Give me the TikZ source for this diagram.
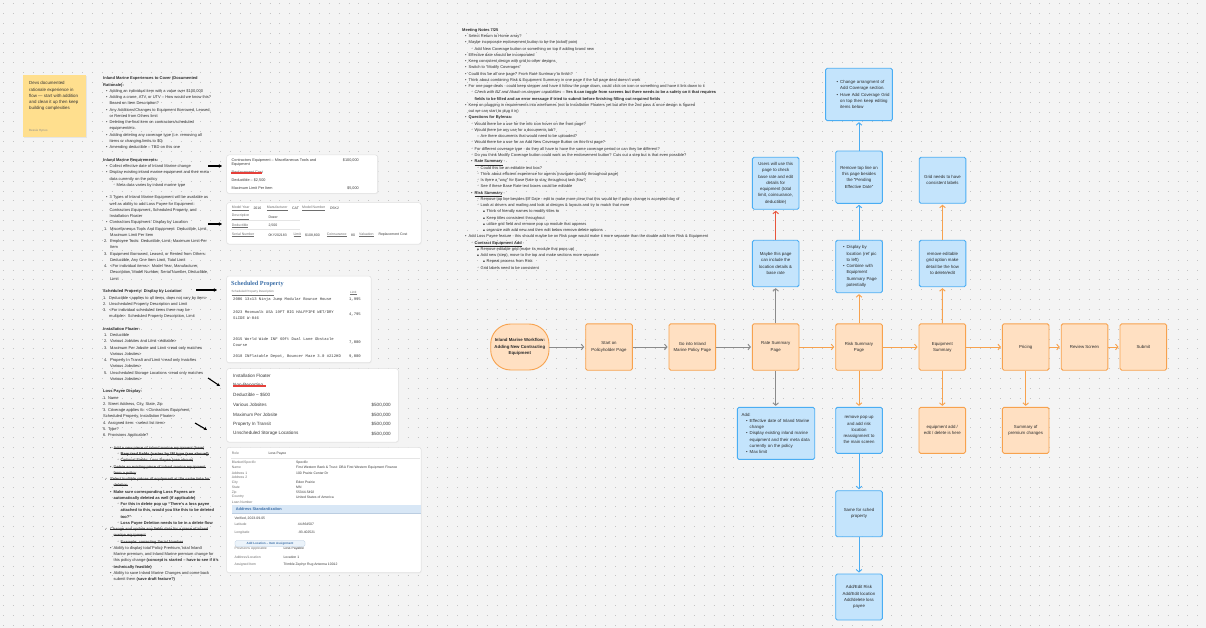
\documentclass[tikz,border=0pt]{standalone}
\usepackage{fontspec}
\setmainfont{Liberation Sans}
\newfontfamily\symf{DejaVu Sans}
\newfontfamily\monof{Liberation Mono}
\newfontfamily\seriff{Liberation Serif}
\usetikzlibrary{arrows.meta}
\definecolor{bgc}{HTML}{F4F4F4}
\definecolor{dotc}{HTML}{C4C4C4}
\definecolor{sticky}{HTML}{FFDF8E}
\definecolor{oF}{HTML}{FFE0C2}
\definecolor{oB}{HTML}{F7A24E}
\definecolor{bF}{HTML}{C4E4FC}
\definecolor{bB}{HTML}{4AADF3}
\definecolor{gA}{HTML}{8A8A8A}
\definecolor{rA}{HTML}{E8553C}
\definecolor{txt}{HTML}{2A2A2A}
\definecolor{cardB}{HTML}{E0E0E0}
\definecolor{cardT}{HTML}{3A3A3A}
\definecolor{lbl}{HTML}{6E6E6E}
\definecolor{spblue}{HTML}{3C6FA8}
\definecolor{strk}{HTML}{E5403A}
\definecolor{band}{HTML}{D8E7F6}
\newsavebox\mstbox
\newcommand\mst[1]{\sbox\mstbox{#1}\rlap{\rule[1.2pt]{\wd\mstbox}{0.3pt}}\usebox\mstbox}
\newcommand\mB[2]{\mbox{\hspace*{#1pt}\makebox[3.5pt][l]{•}#2}}
\newcommand\mO[2]{\mbox{\hspace*{#1pt}\makebox[3.5pt][l]{\symf\fontsize{4.2}{3}\selectfont ◦}#2}}
\newcommand\mS[2]{\mbox{\hspace*{#1pt}\makebox[3.5pt][l]{\symf\fontsize{2.8}{3}\selectfont ▪}#2}}
\newcommand\mK[2]{\mbox{\hspace*{#1pt}\makebox[5.5pt][l]{\symf\fontsize{3.4}{3}\selectfont ✓}#2}}
\newcommand\mD[2]{\mbox{\hspace*{#1pt}\makebox[3.5pt][l]{–}#2}}
\newcommand\mC[2]{\mbox{\hspace*{#1pt}\hspace*{3.5pt}#2}}
\newcommand\mN[3]{\mbox{\hspace*{#1pt}\makebox[6pt][l]{#2}#3}}
\newcommand\mNc[2]{\mbox{\hspace*{#1pt}\hspace*{6pt}#2}}
\newcounter{tn}
\newcommand\ctext[3][]{\stepcounter{tn}\node[ct,#1] (t\arabic{tn}) at (#2) {#3};}
\begin{document}
\begin{tikzpicture}[x=1pt,y=-1pt,
 fb/.style={draw=oB, fill=oF, line width=0.9pt, rounded corners=1.6pt, minimum width=46.6pt, minimum height=46.4pt, inner sep=0.5pt, align=center, font=\fontsize{4.35}{6.25}\selectfont, text=txt},
 bb/.style={fb, draw=bB, fill=bF},
 arr/.style={line width=0.95pt, -{Straight Barb[length=2.4pt,width=5.6pt,line width=0.95pt]}, shorten >=1pt},
 ga/.style={arr, draw=gA}, oa/.style={arr, draw=oB}, ba/.style={arr, draw=bB}, ra/.style={arr, draw=rA},
 ct/.style={anchor=west, inner sep=0, text=cardT},
 card/.style={draw=cardB, fill=white, rounded corners=2.2pt, line width=0.5pt},
 shad/.style={fill=black!7, rounded corners=2.5pt},
 fld/.style={draw=black!10, line width=0.3pt},
 hand/.style={line width=1.1pt, -{Stealth[length=3.2pt,width=3.6pt]}},
 col/.style={anchor=north west, inner sep=0, align=left, font=\fontsize{4}{6.26}\selectfont, text=txt}]
\useasboundingbox (0,0) rectangle (1206,628);
\fill[bgc] (0,0) rectangle (1206,628);
\foreach \j in {0,...,63}{\draw[dotc, line width=0.95pt, dash pattern=on 0.95pt off 8.92pt, dash phase=6.8pt] (0,3.5+\j*9.87) -- (1206,3.5+\j*9.87);}

% sticky note
\fill[black!10] (23.8,76) rectangle (86.8,138.5);
\fill[sticky] (23,75) rectangle (86,137.5);
\node[anchor=north west, inner sep=0, align=left, font=\fontsize{4.4}{6.25}\selectfont, text=black!80] (stk) at (29,81.6) {Devs documented\\rationale experience in\\flow — start with addition\\and clean it up then keep\\building complexities};
\node[anchor=west, inner sep=0, font=\fontsize{3}{4}\selectfont, text=black!45] (stkauth) at (29,130.7) {Bessie Hynes};

% left column
\node[col] (leftcol) at (103,76.8) {\textbf{Inland Marine Experiences to Cover (Documented}\\
\textbf{Rationale):}\\
\mB{3}{Adding an individual item with a value over \$100,000}\\
\mB{3}{Adding a crane, ATV, or UTV – How would we know this?}\\
\mC{3}{Based on Item Description?}\\
\mB{3}{Any Additions/Changes to Equipment Borrowed, Leased,}\\
\mC{3}{or Rented from Others limit}\\
\mB{3}{Deleting the final item on contractors/scheduled}\\
\mC{3}{equipment/etc.}\\
\mB{3}{Adding deleting any coverage type (i.e. removing all}\\
\mC{3}{items or changing limits to \$0)}\\
\mB{3}{Amending deductible – TBD on this one}\\
\mbox{}\\
\textbf{Inland Marine Requirements:}\\
\mB{3}{Collect effective date of Inland Marine change}\\
\mB{3}{Display existing inland marine equipment and their meta}\\
\mC{3}{data currently on the policy}\\
\mO{10}{Meta data varies by inland marine type}\\
\mbox{}\\
\mB{3}{3 Types of Inland Marine Equipment will be available as}\\
\mC{3}{well as ability to add Loss Payee for Equipment:}\\
\mC{3}{Contractors Equipment, Scheduled Property, and}\\
\mC{3}{Installation Floater}\\
\mB{3}{Contractors Equipment: Display by Location}\\
\mN{1}{1.}{Miscellaneous Tools And Equipment: Deductible, Limit,}\\
\mNc{1}{Maximum Limit Per Item}\\
\mN{1}{2.}{Employee Tools: Deductible, Limit, Maximum Limit Per}\\
\mNc{1}{Item}\\
\mN{1}{3.}{Equipment Borrowed, Leased, or Rented from Others:}\\
\mNc{1}{Deductible, Any One Item Limit, Total Limit}\\
\mN{1}{4.}{<For individual items>: Model Year, Manufacturer,}\\
\mNc{1}{Description, Model Number, Serial Number, Deductible,}\\
\mNc{1}{Limit}\\
\mbox{}\\
\textbf{Scheduled Property: Display by Location}\\
\mN{0}{1.}{Deductible <applies to all items, does not vary by item>}\\
\mN{0}{2.}{Unscheduled Property Description and Limit}\\
\mN{0}{3.}{<For individual scheduled items there may be}\\
\mNc{0}{multiple>: Scheduled Property Description, Limit}\\
\mbox{}\\
\textbf{Installation Floater:}\\
\mN{1}{1.}{Deductible}\\
\mN{1}{2.}{Various Jobsites and Limit <editable>}\\
\mN{1}{3.}{Maximum Per Jobsite and Limit <read only matches}\\
\mNc{1}{Various Jobsites>}\\
\mN{1}{4.}{Property In Transit and Limit <read only matches}\\
\mNc{1}{Various Jobsites>}\\
\mN{1}{5.}{Unscheduled Storage Locations <read only matches}\\
\mNc{1}{Various Jobsites>}\\
\mbox{}\\
\textbf{Loss Payee Display:}\\
1. Name\\
2. Street Address, City, State, Zip\\
3. Coverage applies to: <Contractors Equipment,\\
Scheduled Property, Installation Floater>\\
4. Assigned item: <select list item>\\
5. Type?\\
6. Provisions Applicable?\\
\mbox{}\\
\mB{7}{\mst{Add a new piece of inland marine equipment (here)}}\\
\mO{14}{\mst{\textbf{Required fields (varies by IM type (see above))}}}\\
\mO{14}{\mst{Optional Fields: Loss Payee (see above)}}\\
\mB{7}{\mst{Delete an existing piece of inland marine equipment}}\\
\mC{7}{\mst{from a policy}}\\
\mK{1.5}{\mst{Select multiple pieces of equipment at the same time for}}\\
\mC{7}{\mst{deletion}}\\
\mB{7}{\textbf{Make sure corresponding Loss Payees are}}\\
\mC{7}{\textbf{automatically deleted as well (if applicable)}}\\
\mO{14}{\textbf{For this in delete pop up “There’s a loss payee}}\\
\mC{14}{\textbf{attached to this, would you like this to be deleted}}\\
\mC{14}{\textbf{too?”}}\\
\mO{14}{\textbf{Loss Payee Deletion needs to be in a delete flow}}\\
\mK{1.5}{\mst{Change and update any fields data for a piece of inland}}\\
\mC{7}{\mst{marine equipment}}\\
\mO{14}{\mst{Example: correcting Serial Number}}\\
\mB{7}{Ability to display total Policy Premium, total Inland}\\
\mC{7}{Marine premium, and Inland Marine premium change for}\\
\mC{7}{this policy change \textbf{(concept is started – have to see if it’s}}\\
\mC{7}{\textbf{technically feasible)}}\\
\mB{7}{Ability to save Inland Marine Changes and come back}\\
\mC{7}{submit them \textbf{(save draft feature?)}}};

% hand arrows
\coordinate (h1a) at (208,166); \coordinate (h1b) at (222,166);
\coordinate (h2a) at (208,224); \coordinate (h2b) at (222,224);
\coordinate (h3a) at (196,290); \coordinate (h3b) at (217,290);
\coordinate (h4a) at (208,378); \coordinate (h4b) at (220,386);
\coordinate (h5a) at (195,423); \coordinate (h5b) at (207,430);
\draw[hand] (h1a) -- (h1b);
\draw[hand] (h2a) -- (h2b);
\draw[hand] (h3a) -- (h3b);
\draw[hand] (h4a) -- (h4b);
\draw[hand] (h5a) -- (h5b);

% card 1
\fill[shad] (226.5,155.5) rectangle (378.5,194.2);
\draw[card] (226.7,155) rectangle (377.7,193.3);
\ctext[font=\fontsize{3.8}{4}\selectfont]{231.5,160.3}{Contractors Equipment – Miscellaneous Tools and}
\ctext[font=\fontsize{3.8}{4}\selectfont]{231.5,164.6}{Equipment}
\ctext[font=\fontsize{3.8}{4}\selectfont, anchor=east]{359,160.3}{\$100,000}
\ctext[font=\fontsize{3.8}{4}\selectfont, text=lbl]{231.5,173}{Replacement Cost}
\draw[strk, line width=1.5pt] (231,173.1) -- (262,173.1);
\ctext[font=\fontsize{3.8}{4}\selectfont]{231.5,180.3}{Deductible – \$2,500}
\ctext[font=\fontsize{3.8}{4}\selectfont]{231.5,188.3}{Maximum Limit Per Item}
\ctext[font=\fontsize{3.8}{4}\selectfont, anchor=east]{359,188.3}{\$5,000}

% card 2
\fill[shad] (226.5,203.2) rectangle (421.8,244.8);
\draw[card] (226.7,202.7) rectangle (421,244);
\draw[fld] (231,220.6) -- (300,220.6);
\draw[fld] (231,229.6) -- (300,229.6);
\begin{scope}[every node/.append style={font=\fontsize{3.5}{4}\selectfont}]
\ctext[text=lbl]{231.7,208.3}{\underline{Model Year}}
\ctext{253.3,208.3}{2016}
\ctext[text=lbl]{266.7,208.3}{\underline{Manufacturer}}
\ctext{292,208.3}{CAT}
\ctext[text=lbl]{302,208.3}{\underline{Model Number}}
\ctext{330,208.3}{D5K2}
\ctext[text=lbl]{231.7,217}{\underline{Description}}
\ctext{268.3,217}{Dozer}
\ctext[text=lbl]{231.7,226}{\underline{Deductible}}
\ctext{268.3,226}{2,500}
\ctext[text=lbl]{231.7,235}{\underline{Serial Number}}
\ctext{268.3,235}{0KY202183}
\ctext[text=lbl]{293.3,235}{\underline{Limit}}
\ctext{305,235}{\$108,800}
\ctext[text=lbl]{326.7,235}{\underline{Coinsurance}}
\ctext{351,235}{80}
\ctext[text=lbl]{359,235}{\underline{Valuation}}
\ctext{378.3,235}{Replacement Cost}
\end{scope}

% card 3
\fill[shad] (226.5,276.5) rectangle (371.8,363.5);
\draw[card] (226.7,276) rectangle (371,362.7);
\ctext[font=\seriff\bfseries\fontsize{6.2}{7}\selectfont, text=spblue]{231,284.3}{Scheduled Property}
\ctext[font=\fontsize{3}{4}\selectfont, text=lbl]{231.5,293}{\underline{Scheduled Property Description}}
\ctext[font=\fontsize{3}{4}\selectfont, text=lbl]{350,293}{\underline{Limit}}
\begin{scope}[every node/.append style={font=\monof\fontsize{3.9}{5}\selectfont}]
\ctext{233,299.7}{2006 13x13 Ninja Jump Modular Bounce House}
\ctext{233,311.7}{2023 Moonwalk USA 19FT BIG HALFPIPE WET/DRY}
\ctext{233,318}{SLIDE W-046}
\ctext{233,339.3}{2015 World Wide INF 60ft Dual Lane Obstacle}
\ctext{233,345.3}{Course}
\ctext{233,356.3}{2018 INFlatable Depot, Bouncer Maze 3.0 \#212HD}
\ctext[anchor=east]{361,299.7}{1,995}
\ctext[anchor=east]{361,315}{4,795}
\ctext[anchor=east]{361,342.3}{7,000}
\ctext[anchor=east]{361,356.3}{9,000}
\end{scope}

% card 4
\fill[shad] (226.5,369.2) rectangle (399,442.8);
\draw[card] (226.7,368.7) rectangle (398.3,442);
\begin{scope}[every node/.append style={font=\fontsize{4.6}{5}\selectfont, text=black!68}]
\ctext{233,376}{Installation Floater}
\ctext{233,385.8}{Non-Reporting}
\ctext{233,395.3}{Deductible – \$500}
\ctext{233,405}{Various Jobsites}
\ctext{233,414.7}{Maximum Per Jobsite}
\ctext{233,424}{Property In Transit}
\ctext{233,433.7}{Unscheduled Storage Locations}
\ctext[anchor=east]{391,405}{\$500,000}
\ctext[anchor=east]{391,414.7}{\$500,000}
\ctext[anchor=east]{391,424}{\$500,000}
\ctext[anchor=east]{391,433.7}{\$500,000}
\end{scope}
\draw[strk, line width=1.6pt] (233,385.9) -- (265.5,385.9);

% card 5
\fill[shad] (226.5,447.8) rectangle (421.8,573.5);
\draw[card] (226.7,447.3) rectangle (421,572.7);
\draw[fld] (231,458.3) -- (420,458.3);
\fill[band] (232,505.3) rectangle (420.5,513.3);
\draw[spblue!35, line width=0.4pt] (232,513.3) -- (420.5,513.3);
\begin{scope}[every node/.append style={font=\fontsize{3.4}{4}\selectfont}]
\ctext[text=lbl]{231.7,453.3}{Role}
\ctext{268.3,453.3}{Loss Payee}
\ctext[text=lbl]{231.7,462.3}{Blanket/Specific}
\ctext{296,462.3}{Specific}
\ctext[text=lbl]{231.7,467.8}{Name}
\ctext{296,467.8}{First Western Bank \& Trust: DBA First Western Equipment Finance}
\ctext[text=lbl]{231.7,472.8}{Address 1}
\ctext{296,472.8}{100 Prairie Center Dr}
\ctext[text=lbl]{231.7,477.7}{Address 2}
\ctext[text=lbl]{231.7,482.6}{City}
\ctext{296,482.6}{Eden Prairie}
\ctext[text=lbl]{231.7,487.4}{State}
\ctext{296,487.4}{MN}
\ctext[text=lbl]{231.7,492.3}{Zip}
\ctext{296,492.3}{55344-5492}
\ctext[text=lbl]{231.7,497.1}{Country}
\ctext{296,497.1}{United States of America}
\ctext[text=lbl]{231.7,501.9}{Loan Number}
\ctext{234.3,518.3}{Verified, 2023-09-05}
\ctext[text=lbl]{234.3,524.3}{Latitude}
\ctext{297.7,524.3}{44.864507}
\ctext[text=lbl]{234.3,532.7}{Longitude}
\ctext{297.7,532.7}{-93.402521}
\ctext[text=lbl]{234.3,548.7}{Provisions Applicable}
\ctext{283.3,548.7}{Loss Payable}
\ctext[text=lbl]{234.3,557}{Address/Location}
\ctext{283.3,557}{Location 1}
\ctext[text=lbl]{234.3,565}{Assigned Item}
\ctext{283.3,565}{Trimble Zephyr Rug Antenna 10012}
\end{scope}
\ctext[font=\bfseries\fontsize{3.9}{4}\selectfont, text=spblue]{235.7,509.2}{Address Standardization}
\draw[fill=band!50, draw=spblue!40, rounded corners=1.5pt, line width=0.3pt] (235,540.5) rectangle (305,546.5);
\ctext[font=\bfseries\fontsize{3}{4}\selectfont, text=spblue, anchor=center]{270,543.5}{Add Location – Item Assignment}

% meeting notes
\node[col] (notes) at (462,28.2) {\textbf{Meeting Notes 7/25}\\
\mB{3}{Select Return to Home array?}\\
\mB{3}{Maybe incorporate endorsement button to be the kickoff point}\\
\mO{9}{Add New Coverage button or something on top if adding brand new}\\
\mB{3}{Effective date should be incorporated}\\
\mB{3}{Keep consistent design with grid to other designs}\\
\mB{3}{Switch to “Modify Coverages”}\\
\mB{3}{Could this be all one page? From Rate Summary to finish?}\\
\mB{3}{Think about combining Risk \& Equipment Summary in one page if the full page deal doesn’t work}\\
\mB{3}{For one page deals - could keep stepper and have it follow the page down, could click on icon or something and have it link down to it}\\
\mO{9}{\textit{Check with BZ and Akash on stepper capabilities} – \textbf{Yes it can toggle from screens but there needs to be a safety on it that requires}}\\
\mC{9}{\textbf{fields to be filled and an error message if tried to submit before finishing filling out required fields}}\\
\mB{3}{Keep on plugging in requirements into wireframes (not to Installation Floaters yet but after the 2nd pass \& once design is figured}\\
\mC{3}{out we can start to plug it in)}\\
\mB{3}{\textbf{Questions for Bylenza:}}\\
\mO{9}{Would there be a use for the info icon hover on the front page?}\\
\mO{9}{Would there be any use for a documents tab?}\\
\mD{15}{Are there documents that would need to be uploaded?}\\
\mO{9}{Would there be a use for an Add New Coverage Button on this first page?}\\
\mO{9}{For different coverage type - do they all have to have the same coverage period or can they be different?}\\
\mO{9}{Do you think Modify Coverage button could work as the endorsement button? Cuts out a step but is that even possible?}\\
\mB{9}{\textbf{\underline{Rate Summary}} -}\\
\mO{15}{Could this be an editable text box?}\\
\mO{15}{Think about efficient experience for agents (navigate quickly throughout page)}\\
\mO{15}{Is there a “way” for Base Rate to stay throughout task flow?}\\
\mO{15}{See if these Base Rate text boxes could be editable}\\
\mB{9}{\textbf{\underline{Risk Summary}} -}\\
\mO{15}{Remove top line besides Eff Date - edit to make more clear that this would be if policy change is accepted day of}\\
\mO{15}{Look at drivers and mailing and look at designs \& layouts and try to match that more}\\
\mS{21}{Think of friendly names to modify titles to}\\
\mS{21}{Keep titles consistent throughout}\\
\mS{21}{utilize grid field and remove pop up module that appears}\\
\mS{21}{organize with add new and then edit below remove delete options}\\
\mB{3}{Add Loss Payee feature - this should maybe be on Risk page would make it more separate than the double add from Risk \& Equipment}\\
\mO{9}{\textbf{\underline{Contract Equipment Add}} -}\\
\mS{15}{Remove editable grid (make its module that pops up)}\\
\mS{15}{Add new (step), move to the top and make sections more separate}\\
\mS{21}{Repeat process from Risk}\\
\mO{15}{Grid labels need to be consistent}};

% flow
\node[fb, rounded corners=20pt, minimum width=58.3pt, minimum height=46pt, font=\bfseries\fontsize{4.35}{6.25}\selectfont] (wf) at (519.85,347) {Inland Marine Workflow:\\Adding New Contracting\\Equipment};
\node[fb] (start) at (609,347) {Start on\\Policyholder Page};
\node[fb] (go) at (692.3,347) {Go into Inland\\Marine Policy Page};
\node[fb] (rate) at (775.7,347) {Rate Summary\\Page};
\node[fb] (risk) at (859,347) {Risk Summary\\Page};
\node[fb] (equip) at (942.3,347) {Equipment\\Summary};
\node[fb] (pricing) at (1025.7,347) {Pricing};
\node[fb] (review) at (1084.5,347) {Review Screen};
\node[fb] (submit) at (1143.3,347) {Submit};

\node[bb] (maybe) at (775.7,263.5) {Maybe this page\\can include the\\location details \&\\base rate};
\node[bb, minimum height=52pt] (users) at (775.7,183.3) {Users will use this\\page to check\\base rate and edit\\details for\\equipment (total\\limit, coinsurance,\\deductible)};
\node[bb, minimum height=52.4pt, text width=32pt, align=left] (display) at (859,266.5) {\mB{0}{Display by}\\\mC{0}{location (ref pic}\\\mC{0}{to left)}\\\mB{0}{Combine with}\\\mC{0}{Equipment}\\\mC{0}{Summary Page}\\\mC{0}{potentially}};
\node[bb, minimum height=52.3pt] (rtop) at (859,177.2) {Remove top line on\\this page besides\\the “Pending\\Effective Date”};
\node[bb, minimum width=66.7pt, minimum height=52.4pt, text width=44.6pt, align=left] (change) at (859,94.5) {\mB{0}{Change arrangment of}\\\mC{0}{Add Coverage section.}\\\mB{0}{Have Add Coverage Grid}\\\mC{0}{on top then keep editing}\\\mC{0}{items below}};
\node[bb] (remed) at (942.5,263.5) {remove editable\\grid option make\\detail be the how\\to delete/edit};
\node[bb, minimum height=46pt] (gridn) at (942.5,180.3) {Grid needs to have\\consistent labels};

\node[bb, minimum width=77.4pt, minimum height=52pt, text width=68.6pt, align=left] (add) at (776,433.3) {Add:\\\mB{4.5}{Effective date of Inland Marine}\\\mC{4.5}{change}\\\mB{4.5}{Display existing inland marine}\\\mC{4.5}{equipment and their meta data}\\\mC{4.5}{currently on the policy}\\\mB{4.5}{Max limit}};
\node[bb, minimum height=46pt] (rpop) at (859,430.3) {remove pop up\\and add risk\\location\\reassignment to\\the main screen};
\node[fb, minimum height=46pt] (eqadd) at (942.3,430.3) {equipment add /\\edit / delete is here};
\node[fb, minimum height=46pt] (summ) at (1025.7,430.3) {Summary of\\premium changes};
\node[bb, minimum height=46pt] (same) at (859,513.7) {Same for sched\\property};
\node[bb, minimum height=46pt] (addedit) at (859,597) {Add/Edit Risk\\Add/Edit location\\Add/delete loss\\payee};

\draw[ga] (wf) -- (start);
\draw[ga] (start) -- (go);
\draw[ga] (go) -- (rate);
\draw[ga] (rate) -- (maybe);
\draw[ga] (rate.south) -- (rate.south |- add.north);
\draw[oa] (rate) -- (risk);
\draw[oa] (risk) -- (equip);
\draw[oa] (equip) -- (pricing);
\draw[oa] (pricing) -- (review);
\draw[oa] (review) -- (submit);
\draw[oa] (risk) -- (display);
\draw[oa] (risk) -- (rpop);
\draw[oa] (equip) -- (remed);
\draw[oa] (equip) -- (eqadd);
\draw[oa] (pricing) -- (summ);
\draw[oa] (remed) -- (gridn);
\draw[ba] (display) -- (rtop);
\draw[ba] (rtop) -- (change);
\draw[ba] (rpop) -- (same);
\draw[ba] (same) -- (addedit);
\draw[ra] (maybe) -- (users);
\end{tikzpicture}
\end{document}
